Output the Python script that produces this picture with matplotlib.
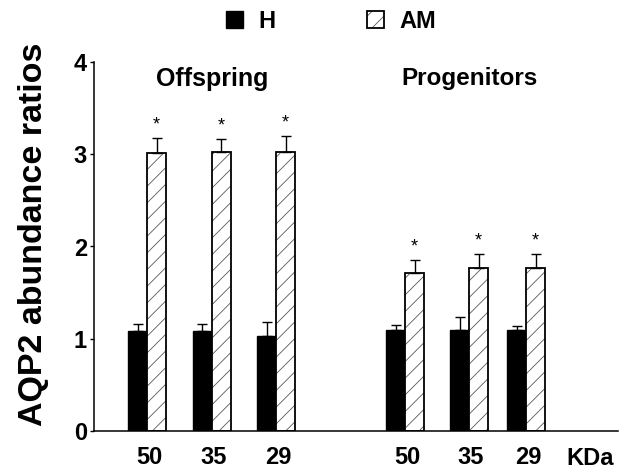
import matplotlib
matplotlib.use("Agg")
import matplotlib.pyplot as plt
import numpy as np

plt.rcParams['font.family'] = ['Liberation Sans', 'DejaVu Sans']
plt.rcParams['font.weight'] = 'bold'
plt.rcParams['hatch.linewidth'] = 0.6

# data
kda_labels = ['50', '35', '29', '50', '35', '29']
h_means = [1.08, 1.08, 1.03, 1.10, 1.10, 1.10]
h_err = [0.08, 0.08, 0.15, 0.05, 0.14, 0.04]
am_means = [3.01, 3.02, 3.02, 1.71, 1.77, 1.77]
am_err = [0.17, 0.14, 0.18, 0.14, 0.15, 0.15]

# group centres in bar-width units
pos = np.array([2.79, 6.21, 9.58, 16.37, 19.74, 22.74])
w = 1.0

fig = plt.figure(figsize=(6.19, 4.69), dpi=100)
ax = fig.add_axes([94 / 619, 38 / 469, 524 / 619, 369 / 469])

err_kw = dict(ecolor='black', elinewidth=1.0, capsize=3.6, capthick=1.0)
h_bars = ax.bar(pos - w / 2, h_means, w, color='black', edgecolor='black', lw=1.0,
                yerr=[np.zeros(6), h_err], error_kw=err_kw, label='H')
am_bars = ax.bar(pos + w / 2, am_means, w, color='white', edgecolor='black', lw=1.3,
                 hatch='//', yerr=[np.zeros(6), am_err], error_kw=err_kw, label='AM')
for b in am_bars:
    b._hatch_color = (0.35, 0.35, 0.35, 1)

# significance stars
for x, m, e in zip(pos + w / 2, am_means, am_err):
    ax.text(x, m + e + 0.05, '*', ha='center', va='bottom', fontsize=13, fontweight='normal')

ax.set_xlim(0, 27.58)
ax.set_ylim(0, 4)
ax.set_yticks([0, 1, 2, 3, 4])
ax.set_xticks(pos + 0.1)
ax.set_xticklabels(kda_labels)
ax.tick_params(axis='x', length=0, pad=11, labelsize=17)
ax.tick_params(axis='y', length=3, width=1, pad=2, labelsize=17)
ax.text(26.1, -0.3, 'KDa', ha='center', va='center', fontsize=17, fontweight='bold')

for s in ['top', 'right']:
    ax.spines[s].set_visible(False)
ax.spines['left'].set_linewidth(1.1)
ax.spines['bottom'].set_linewidth(1.1)

ax.set_ylabel('AQP2 abundance ratios', fontsize=24.5, fontweight='bold')
ax.yaxis.set_label_coords(-0.085, 0.534)

ax.text(pos[1], 3.82, 'Offspring', ha='center', va='center', fontsize=18, fontweight='bold')
ax.text(pos[4], 3.82, 'Progenitors', ha='center', va='center', fontsize=17.5, fontweight='bold')

fig.legend(handles=[h_bars, am_bars], labels=['H', 'AM'], loc='center',
           bbox_to_anchor=(331 / 619, 1 - 21 / 469), ncol=2, frameon=False,
           fontsize=17, handlelength=0.72, handleheight=0.72, handletextpad=0.65,
           columnspacing=3.9)

fig.savefig('out.png', dpi=100)
